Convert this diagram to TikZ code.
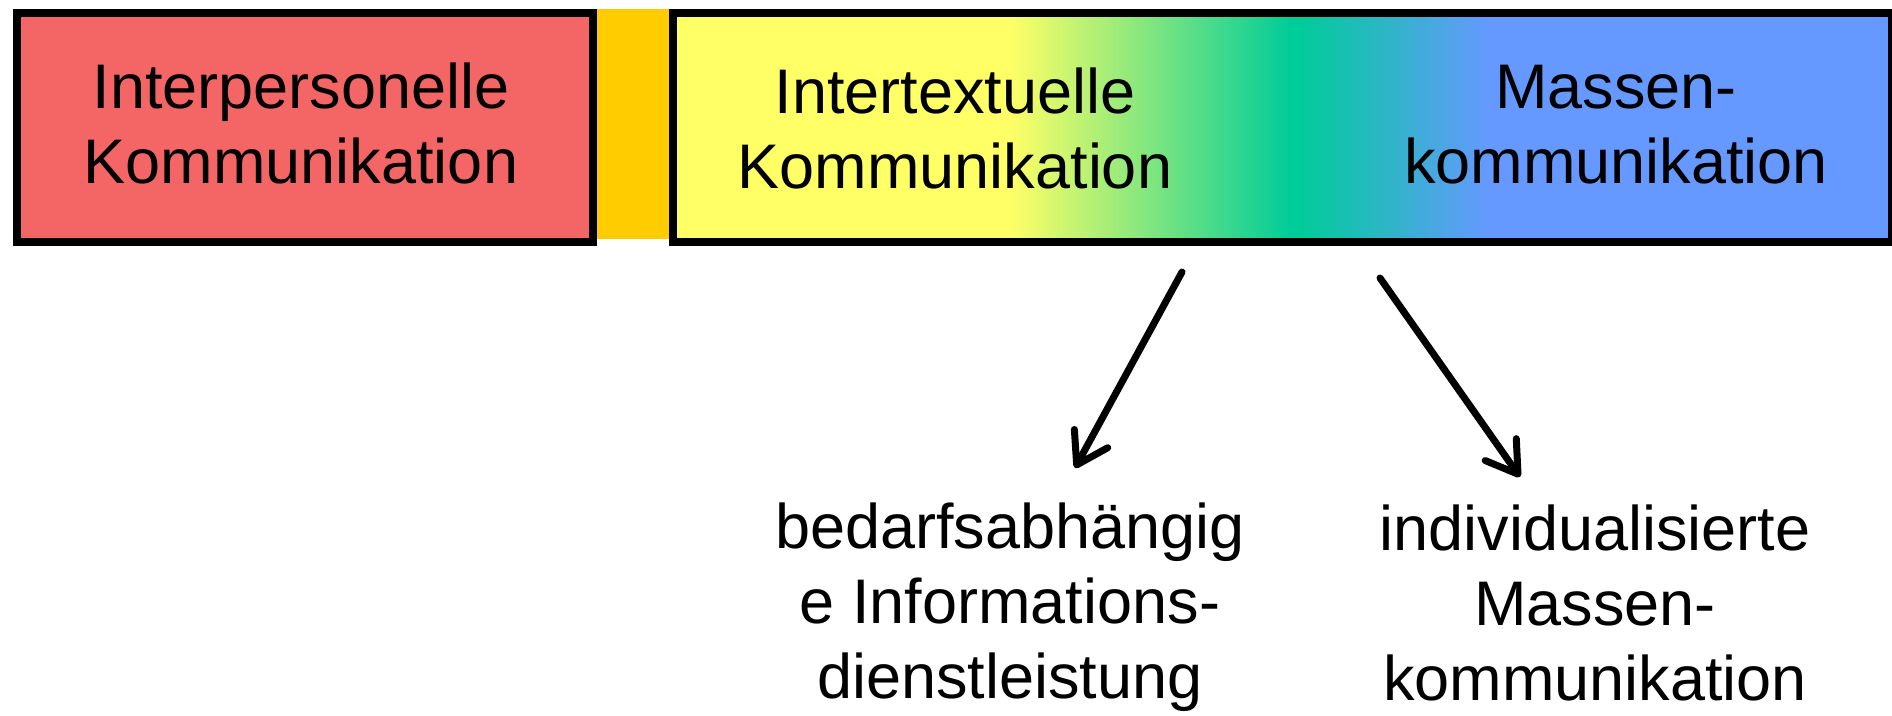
\documentclass[tikz,border=0pt]{standalone}
\usepackage{fontspec}
\setmainfont{Liberation Sans}
\usetikzlibrary{arrows.meta}
\definecolor{cred}{HTML}{F46666}
\definecolor{corange}{HTML}{FFCC00}
\definecolor{cyellow}{HTML}{FFFF66}
\definecolor{cgreen}{HTML}{00CC99}
\definecolor{cblue}{HTML}{6699FF}
\begin{document}
\begin{tikzpicture}[x=1pt,y=-1pt,
  boxframe/.style={draw=black, line width=8pt, inner sep=0pt, anchor=north west},
  lbl/.style={font=\fontsize{63}{75}\selectfont, align=center, inner sep=0pt, anchor=base},
  arr/.style={line width=7pt, line cap=round, line join=round, -{Straight Barb[length=30pt,width=38pt,round]}}]
\useasboundingbox (0,0) rectangle (1892,715);
\fill[white] (0,0) rectangle (1892,715);
% orange strip between the boxes
\fill[corange] (589,9) rectangle (669,239);
% colour run of the right box
\fill[cyellow] (669,9) rectangle (1010.5,238);
\shade[left color=cyellow,right color=cgreen] (1010,9) rectangle (1290.5,238);
\fill[cgreen] (1290,9) rectangle (1300.5,238);
\shade[left color=cgreen,right color=cblue] (1300,9) rectangle (1490.5,238);
\fill[cblue] (1490,9) rectangle (1888,238);
% boxes
\node[boxframe, fill=cred, minimum width=576pt, minimum height=229pt] (ip) at (13,9) {};
\node[boxframe, minimum width=1219pt, minimum height=229pt] (mk) at (669,9) {};
% texts (anchor base = baseline of the last line)
\node[lbl] (t1) at (301,183) {Interpersonelle\\Kommunikation};
\node[lbl] (t2) at (955,188) {Intertextuelle\\Kommunikation};
\node[lbl] (t3) at (1616,183) {Massen-\\kommunikation};
\node[lbl] (t4) at (1010,698) {bedarfsabhängig\\e Informations-\\dienstleistung};
\node[lbl] (t5) at (1595,700) {individualisierte\\Massen-\\kommunikation};
% arrows
\coordinate (a1s) at (1182,272);
\coordinate (a1e) at (1075,468);
\coordinate (a2s) at (1380,278);
\coordinate (a2e) at (1520,477);
\draw[arr] (a1s) -- (a1e);
\draw[arr] (a2s) -- (a2e);
\end{tikzpicture}
\end{document}
